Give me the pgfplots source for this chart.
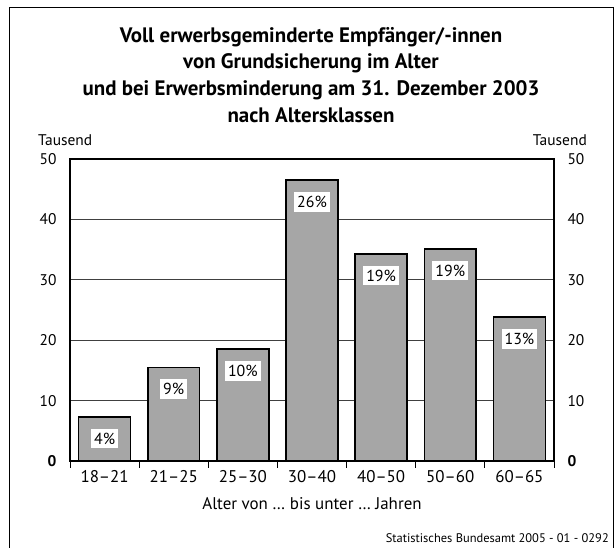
\documentclass[border=0pt]{standalone}
\usepackage{pgfplots}
\pgfplotsset{compat=1.18}
\usepackage{fontspec}
\setmainfont{PT Sans}
\definecolor{barg}{HTML}{A6A6A6}
\definecolor{gridc}{HTML}{404040}
\begin{document}
\begin{tikzpicture}
\path[use as bounding box] (0bp,0bp) rectangle (616bp,548bp);
\draw[line width=1.6bp] (9.5bp,0bp) -- (9.5bp,540.5bp) -- (613.5bp,540.5bp) -- (613.5bp,0bp);
\node[font=\bfseries\fontsize{21}{27}\selectfont, align=center] at (311bp,473bp) {Voll erwerbsgeminderte Empfänger/-innen\\von Grundsicherung im Alter\\und bei Erwerbsminderung am 31. Dezember 2003\\nach Altersklassen};
\node[font=\fontsize{15.5}{18}\selectfont, anchor=west, inner sep=0pt] at (38bp,408bp) {Tausend};
\node[font=\fontsize{15.5}{18}\selectfont, anchor=east, inner sep=0pt] at (587bp,408bp) {Tausend};
\node[font=\fontsize{12.5}{14}\selectfont, anchor=east, inner sep=0pt] at (609bp,10bp) {Statistisches Bundesamt 2005 - 01 - 0292};
\begin{axis}[
  at={(70bp,87bp)}, anchor=south west,
  width=484bp, height=302bp, scale only axis,
  xmin=-0.5, xmax=6.5, ymin=0, ymax=50,
  ybar, bar width=0.75,
  xtick={0,...,6},
  xticklabels={18--21,21--25,25--30,30--40,40--50,50--60,60--65},
  xtick pos=bottom,
  major tick length=0pt,
  extra x ticks={-0.5,0.5,1.5,2.5,3.5,4.5,5.5,6.5},
  extra x tick labels={},
  extra x tick style={major tick length=7bp, tick align=outside, tick style={line width=1bp, black}},
  xticklabel style={font=\fontsize{17}{19}\selectfont, yshift=-6bp},
  xlabel={Alter von \dots\ bis unter \dots\ Jahren},
  xlabel style={font=\fontsize{17}{19}\selectfont, yshift=-1bp},
  ytick={0,10,20,30,40,50},
  yticklabels={\textbf{0},10,20,30,40,50},
  ytick pos=left,
  yticklabel style={font=\fontsize{15.5}{18}\selectfont, xshift=-10bp},
  ymajorgrids,
  grid style={line width=1.1bp, gridc},
  axis line style={line width=1.4bp, black},
  point meta=explicit symbolic,
  nodes near coords,
  every node near coord/.append style={anchor=north, yshift=-11bp, fill=white, inner xsep=3bp, inner ysep=4bp, font=\fontsize{16}{18}\selectfont, text=black},
]
\addplot[fill=barg, draw=black, line width=1.7bp] coordinates {
 (0,7.3) [4\%]
 (1,15.5) [9\%]
 (2,18.5) [10\%]
 (3,46.5) [26\%]
 (4,34.3) [19\%]
 (5,35.1) [19\%]
 (6,23.8) [13\%]
};
\draw[line width=2.6bp, black] (rel axis cs:0,0) -- (rel axis cs:1,0);
\draw[line width=1.8bp, black] (rel axis cs:0,1) -- (rel axis cs:1,1);
\end{axis}
\begin{axis}[
  at={(70bp,87bp)}, anchor=south west,
  width=484bp, height=302bp, scale only axis,
  xmin=-0.5, xmax=6.5, ymin=0, ymax=50,
  xtick=\empty,
  ytick={0,10,20,30,40,50},
  yticklabels={\textbf{0},10,20,30,40,50},
  ytick pos=right, yticklabel pos=right,
  major tick length=0pt,
  yticklabel style={font=\fontsize{15.5}{18}\selectfont, xshift=10bp},
  axis line style={draw=none},
]
\end{axis}
\end{tikzpicture}
\end{document}
